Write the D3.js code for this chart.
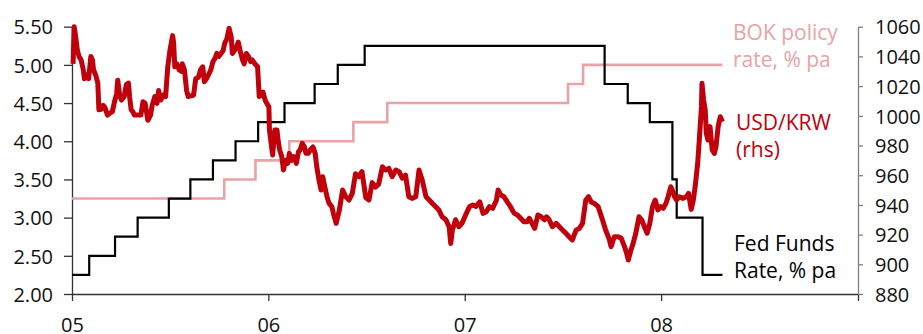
<!DOCTYPE html>
<html>
<head>
<meta charset="utf-8">
<script src="https://cdn.jsdelivr.net/npm/d3@7"></script>
<style>
  body { margin: 0; background: #fff; }
  svg text { font-family: "Open Sans", "DejaVu Sans", sans-serif; }
  .axis text { font-size: 20px; fill: #111; }
  .legend { font-size: 21px; }
</style>
</head>
<body>
<div id="chart"></div>
<script>
// tick labels
const leftTicks = [2.0, 2.5, 3.0, 3.5, 4.0, 4.5, 5.0, 5.5];
const rightTicks = [880, 900, 920, 940, 960, 980, 1000, 1020, 1040, 1060];
const yearTicks = ["2005-01-01", "2006-01-01", "2007-01-01", "2008-01-01", "2009-01-01"];
const yearLabels = ["05", "06", "07", "08", ""];

// Fed Funds target, % pa (left axis)
const fedDates = ["2005-01-01","2005-02-02","2005-03-22","2005-05-03","2005-06-30","2005-08-09",
  "2005-09-20","2005-11-01","2005-12-13","2006-01-31","2006-03-28","2006-05-10","2006-06-29",
  "2007-09-18","2007-10-31","2007-12-11","2008-01-22","2008-01-30","2008-03-18","2008-04-24"];
const fedRates = [2.25,2.50,2.75,3.00,3.25,3.50,3.75,4.00,4.25,4.50,4.75,5.00,5.25,
  4.75,4.50,4.25,3.50,3.00,2.25,2.25];

// BOK policy rate, % pa (left axis)
const bokDates = ["2005-01-01","2005-10-11","2005-12-08","2006-02-09","2006-06-08","2006-08-10",
  "2007-07-12","2007-08-09","2008-04-24"];
const bokRates = [3.25,3.50,3.75,4.00,4.25,4.50,4.75,5.00,5.00];

// USD/KRW (right axis)
const usdKrw = [
  ["2005-01-03",1035],["2005-01-05",1060],["2005-01-07",1055.6],["2005-01-11",1044],["2005-01-14",1040],
  ["2005-01-18",1037.6],["2005-01-22",1031],["2005-01-24",1025],["2005-01-28",1027.5],["2005-02-01",1025],
  ["2005-02-05",1040],["2005-02-08",1037.6],["2005-02-10",1031],["2005-02-14",1027.5],["2005-02-18",1022],
  ["2005-02-20",1004],["2005-02-24",1004.4],["2005-02-28",1007],["2005-03-03",1005.7],["2005-03-08",1000.5],
  ["2005-03-12",1001.7],["2005-03-17",1002.8],["2005-03-21",1009.5],["2005-03-25",1015],["2005-03-27",1024],
  ["2005-03-31",1013],["2005-04-03",1010.6],["2005-04-08",1013],["2005-04-12",1021],["2005-04-16",1022],
  ["2005-04-18",1013],["2005-04-21",1004],["2005-04-24",1002.8],["2005-04-27",1000.5],["2005-05-03",1000.5],
  ["2005-05-09",1000.5],["2005-05-13",1009.5],["2005-05-17",1008.4],["2005-05-22",997],["2005-05-27",1000.5],
  ["2005-05-30",1007],["2005-06-04",1013],["2005-06-08",1008.4],["2005-06-11",1017],["2005-06-15",1010.6],
  ["2005-06-20",1014],["2005-06-24",1013],["2005-06-28",1033],["2005-07-02",1044],["2005-07-07",1054],
  ["2005-07-09",1049],["2005-07-11",1033],["2005-07-15",1035],["2005-07-19",1031],["2005-07-23",1030],
  ["2005-07-25",1035],["2005-07-29",1031],["2005-08-02",1017],["2005-08-05",1013],["2005-08-10",1013.4],
  ["2005-08-15",1014],["2005-08-19",1025],["2005-08-24",1026],["2005-08-28",1031],["2005-09-01",1033],
  ["2005-09-04",1023],["2005-09-08",1025],["2005-09-13",1028.6],["2005-09-16",1031],["2005-09-20",1036.5],
  ["2005-09-24",1038.8],["2005-09-27",1042],["2005-10-01",1040],["2005-10-05",1042],["2005-10-09",1044],
  ["2005-10-12",1049],["2005-10-16",1052],["2005-10-20",1059],["2005-10-24",1053],["2005-10-26",1042],
  ["2005-10-30",1044],["2005-11-03",1046.5],["2005-11-06",1049.6],["2005-11-10",1043],["2005-11-14",1037.6],
  ["2005-11-17",1035],["2005-11-21",1042],["2005-11-25",1040],["2005-11-29",1036.5],["2005-12-02",1037.6],
  ["2005-12-07",1035],["2005-12-12",1033],["2005-12-15",1013],["2005-12-18",1014],["2005-12-22",1016],
  ["2005-12-26",1010.6],["2005-12-29",1008.4],["2006-01-02",1006],["2006-01-03",990.4],["2006-01-07",979],
  ["2006-01-09",973.6],["2006-01-13",990.4],["2006-01-17",990.4],["2006-01-19",983.7],["2006-01-22",977],
  ["2006-01-26",972.5],["2006-01-29",963.5],["2006-02-02",970],["2006-02-06",968],["2006-02-09",974.7],
  ["2006-02-13",970],["2006-02-17",972.5],["2006-02-22",968],["2006-02-26",975.8],["2006-03-01",977],
  ["2006-03-05",981.5],["2006-03-09",979],["2006-03-12",974.7],["2006-03-16",974.7],["2006-03-20",977],
  ["2006-03-25",979],["2006-03-29",974.7],["2006-04-01",965.7],["2006-04-05",956.8],["2006-04-09",950],
  ["2006-04-12",959],["2006-04-16",952],["2006-04-20",945.5],["2006-04-24",941],["2006-04-29",938.8],
  ["2006-05-02",934],["2006-05-07",927.6],["2006-05-13",936.6],["2006-05-19",950],["2006-05-25",945.5],
  ["2006-05-31",943.3],["2006-06-06",947.8],["2006-06-12",961],["2006-06-18",959],["2006-06-24",962.4],
  ["2006-07-01",945],["2006-07-07",943.3],["2006-07-13",955],["2006-07-19",952],["2006-07-25",954],
  ["2006-08-01",965.7],["2006-08-07",963.5],["2006-08-13",964.6],["2006-08-19",959],["2006-08-26",963.5],
  ["2006-09-01",962.4],["2006-09-07",958],["2006-09-13",960],["2006-09-19",945.5],["2006-09-25",944.4],
  ["2006-10-02",945.5],["2006-10-08",963.5],["2006-10-14",956.8],["2006-10-21",945.5],["2006-10-27",943.3],
  ["2006-11-02",941],["2006-11-08",938.8],["2006-11-14",936.6],["2006-11-20",932],["2006-11-27",930],
  ["2006-12-03",925.3],["2006-12-06",914],["2006-12-09",923],["2006-12-15",930],["2006-12-21",925.3],
  ["2006-12-27",927.6],["2007-01-04",934.3],["2007-01-10",938.8],["2007-01-16",940],["2007-01-22",939],
  ["2007-01-29",942],["2007-02-04",934.3],["2007-02-10",935.4],["2007-02-16",938.8],["2007-02-22",937.7],
  ["2007-03-01",943.3],["2007-03-04",950],["2007-03-09",946.7],["2007-03-15",945.5],["2007-03-21",942],
  ["2007-03-27",938.8],["2007-04-03",934.3],["2007-04-09",933.2],["2007-04-15",931],["2007-04-21",928.7],
  ["2007-04-27",928.7],["2007-05-01",931],["2007-05-06",927.6],["2007-05-11",924.2],["2007-05-17",933.2],
  ["2007-05-23",932],["2007-05-29",930],["2007-06-02",932],["2007-06-07",930],["2007-06-13",925.3],
  ["2007-06-20",927.6],["2007-06-26",925.3],["2007-07-02",923],["2007-07-08",920.9],["2007-07-14",918.6],
  ["2007-07-20",916.4],["2007-07-27",923],["2007-08-02",924.2],["2007-08-08",927.6],["2007-08-14",943.3],
  ["2007-08-19",945.5],["2007-08-24",942],["2007-08-30",941],["2007-09-06",938.8],["2007-09-14",930],
  ["2007-09-20",923],["2007-09-27",916.4],["2007-09-30",911.9],["2007-10-06",918.6],["2007-10-13",918.6],
  ["2007-10-19",917.5],["2007-10-25",911.9],["2007-10-29",907.4],["2007-11-01",902.9],["2007-11-06",909.6],
  ["2007-11-10",914.1],["2007-11-15",920.9],["2007-11-21",932],["2007-11-26",929.8],["2007-12-01",925.3],
  ["2007-12-06",920.9],["2007-12-11",927.6],["2007-12-16",938.8],["2007-12-21",943.3],["2007-12-26",936.6],
  ["2007-12-31",938.8],["2008-01-05",937.7],["2008-01-10",941],["2008-01-14",945.5],["2008-01-19",952.2],
  ["2008-01-23",948.9],["2008-01-26",945.5],["2008-01-30",943.3],["2008-02-04",945.5],["2008-02-10",944.4],
  ["2008-02-17",945.5],["2008-02-21",947.8],["2008-02-26",937],["2008-03-01",943.3],["2008-03-05",954.5],
  ["2008-03-09",968],["2008-03-12",983.7],["2008-03-16",1006],["2008-03-17",1021.9],["2008-03-20",1010.6],
  ["2008-03-23",1004],["2008-03-25",988.2],["2008-03-28",983.7],["2008-04-01",992.7],["2008-04-05",977],
  ["2008-04-09",974.7],["2008-04-12",979.2],["2008-04-16",992.7],["2008-04-20",999.4],["2008-04-24",996]
];

const width = 923;
const height = 334;
const margin = {top: 26.7, left: 72, right: 65, bottom: 40};
const parse = d3.utcParse("%Y-%m-%d");

const svg = d3.select("#chart")
  .append("svg")
  .attr("width", width)
  .attr("height", height);

const xScale = d3.scaleUtc()
  .domain([parse("2005-01-01"), parse("2009-01-01")])
  .range([margin.left, width - margin.right]);

const yLeft = d3.scaleLinear()
  .domain([2, 5.5])
  .range([height - margin.bottom, margin.top]);

const yRight = d3.scaleLinear()
  .domain([880, 1060])
  .range([height - margin.bottom, margin.top]);

// axes
const xAxis = svg.append("g")
  .attr("class", "axis")
  .attr("transform", `translate(0,${height - margin.bottom})`)
  .call(d3.axisBottom(xScale)
    .tickValues(yearTicks.map(parse))
    .tickFormat((d, i) => yearLabels[i])
    .tickSize(7).tickSizeOuter(0).tickPadding(17));

const leftAxis = svg.append("g")
  .attr("class", "axis")
  .attr("transform", `translate(${margin.left},0)`)
  .call(d3.axisLeft(yLeft)
    .tickValues(leftTicks)
    .tickFormat(d3.format(".2f"))
    .tickSize(8).tickSizeOuter(0).tickPadding(11));

const rightAxis = svg.append("g")
  .attr("class", "axis")
  .attr("transform", `translate(${width - margin.right},0)`)
  .call(d3.axisRight(yRight)
    .tickValues(rightTicks)
    .tickFormat(d3.format("d"))
    .tickSize(5).tickSizeOuter(0).tickPadding(12));

xAxis.selectAll("path, line").attr("stroke", "#333").attr("stroke-width", 1.3);
leftAxis.selectAll("path, line").attr("stroke", "#333").attr("stroke-width", 1.3);
rightAxis.selectAll("path, line").attr("stroke", "#808080").attr("stroke-width", 1.3);
svg.selectAll(".axis text").attr("font-size", null).attr("font-family", null);
leftAxis.selectAll("text").attr("dy", "0.36em");
rightAxis.selectAll("text").attr("dy", "0.36em");

// lines
const stepLine = d3.line()
  .x(d => xScale(d.date))
  .y(d => yLeft(d.value))
  .curve(d3.curveStepAfter);

const bokData = bokDates.map((d, i) => ({date: parse(d), value: bokRates[i]}));
const fedData = fedDates.map((d, i) => ({date: parse(d), value: fedRates[i]}));
const krwData = usdKrw.map(d => ({date: parse(d[0]), value: d[1]}));

svg.append("path")
  .datum(bokData)
  .attr("fill", "none")
  .attr("stroke", "#e9a3a6")
  .attr("stroke-width", 2.6)
  .attr("d", stepLine);

svg.append("path")
  .datum(fedData)
  .attr("fill", "none")
  .attr("stroke", "#000")
  .attr("stroke-width", 2.2)
  .attr("d", stepLine);

svg.append("path")
  .datum(krwData)
  .attr("fill", "none")
  .attr("stroke", "#c0000b")
  .attr("stroke-width", 5)
  .attr("stroke-linejoin", "round")
  .attr("d", d3.line()
    .x(d => xScale(d.date))
    .y(d => yRight(d.value)));

// labels
const labels = [
  {lines: ["BOK policy", "rate, % pa"], x: 733, y: 39.5, color: "#e9a3a6"},
  {lines: ["USD/KRW", "(rhs)"], x: 736, y: 130, color: "#c0000b"},
  {lines: ["Fed Funds", "Rate, % pa"], x: 734, y: 250.5, color: "#000"}
];

labels.forEach(function(lab) {
  const t = svg.append("text")
    .attr("class", "legend")
    .attr("x", lab.x)
    .attr("y", lab.y)
    .attr("fill", lab.color);
  lab.lines.forEach(function(line, i) {
    t.append("tspan")
      .attr("x", lab.x)
      .attr("dy", i === 0 ? 0 : 27)
      .text(line);
  });
});
</script>
</body>
</html>
